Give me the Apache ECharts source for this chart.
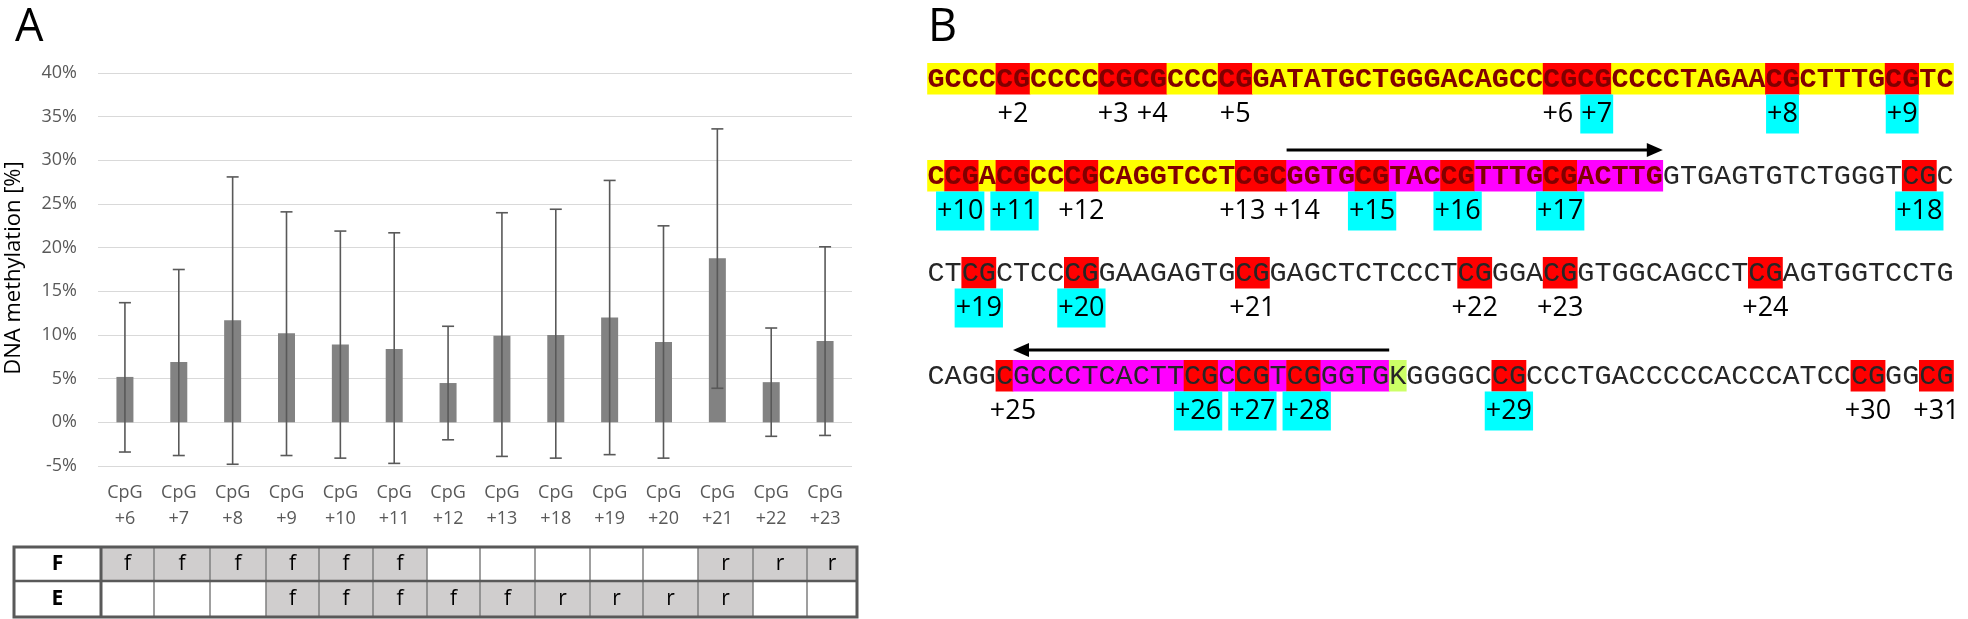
<!DOCTYPE html>
<html><head><meta charset="utf-8">
<script src="https://cdn.jsdelivr.net/npm/echarts@6/dist/echarts.min.js"></script>
<style>html,body{margin:0;padding:0;background:#fff}#c{width:1968px;height:619px}</style>
</head><body><div id="c"></div>
<script>
// ---------------- DATA ----------------
const categories = ['+6','+7','+8','+9','+10','+11','+12','+13','+18','+19','+20','+21','+22','+23'];
const meanMeth = [5.2, 6.9, 11.7, 10.2, 8.9, 8.4, 4.5, 9.9, 10.0, 12.0, 9.2, 18.8, 4.6, 9.3];
const errHigh  = [13.7, 17.5, 28.1, 24.1, 21.9, 21.7, 11.0, 24.0, 24.4, 27.7, 22.5, 33.6, 10.8, 20.1];
const errLow   = [-3.4, -3.8, -4.8, -3.8, -4.1, -4.7, -2.0, -3.9, -4.1, -3.7, -4.1, 3.9, -1.6, -1.5];
const yMin = -5, yMax = 40, yStep = 5;

const tableRowNames = ['F', 'E'];
const tableF = ['f','f','f','f','f','f','','','','','','r','r','r'];
const tableE = ['','','','f','f','f','f','f','r','r','r','r','',''];

// sequence segments: [bases, code]  A=amplicon(yellow) C=CpG(red) P=primer(magenta) K=degenerate ''=none
const seqRow1 = [['GCCC','A'],['CG','C'],['CCCC','A'],['CGCG','C'],['CCC','A'],['CG','C'],['GATATGCTGGGACAGCC','A'],['CGCG','C'],['CCCCTAGAA','A'],['CG','C'],['CTTTG','A'],['CG','C'],['TC','A']];
const seqRow2 = [['C','A'],['CG','C'],['A','A'],['CG','C'],['CC','A'],['CG','C'],['CAGGTCCT','A'],['CGC','C'],['GGTG','P'],['CG','C'],['TAC','P'],['CG','C'],['TTTG','P'],['CG','C'],['ACTTG','P'],['GTGAGTGTCTGGGT',''],['CG','C'],['C','']];
const seqRow3 = [['CT',''],['CG','C'],['CTCC',''],['CG','C'],['GAAGAGTG',''],['CG','C'],['GAGCTCTCCCT',''],['CG','C'],['GGA',''],['CG','C'],['GTGGCAGCCT',''],['CG','C'],['AGTGGTCCTG','']];
const seqRow4 = [['CAGG',''],['C','C'],['GCCCTCACTT','P'],['CG','C'],['C','P'],['CG','C'],['T','P'],['CG','C'],['GGTG','P'],['K','K'],['GGGGC',''],['CG','C'],['CCCTGACCCCCACCCATCC',''],['CG','C'],['GG',''],['CG','C']];
const exonLength = 103;          // leading bases of exon 1 (bold)
const firstCpG = 2;              // number of the first CpG shown
const cyanSites = [7,8,9,10,11,15,16,17,18,19,20,26,27,28,29];
const primerDirection = [null, 'forward', null, 'reverse'];

// ---------------- LAYOUT / STYLE ----------------
const FONT = 'Open Sans';
const MONO = 'Liberation Mono';
const seqRows = [seqRow1, seqRow2, seqRow3, seqRow4];
const SEQ_X0 = 927.5, CHAR_W = 17.1, BAND_H = 31.5;
const BAND_TOP = [63, 160, 257, 360];
const BG = {A:'#ffff00', C:'#ff0000', P:'#ff00ff', K:'#ccff66'};
const LABEL_FS = 27, LABEL_H = 39, LABEL_GAP = 8;

const G = [];
G.push({type:'text', x:15, y:28, z:5, style:{text:'A', fontSize:45, fontFamily:FONT, fill:'#000', align:'left', verticalAlign:'middle'}});
G.push({type:'text', x:928, y:28, z:5, style:{text:'B', fontSize:45, fontFamily:FONT, fill:'#000', align:'left', verticalAlign:'middle'}});
G.push({type:'text', x:14, y:268, rotation:Math.PI/2, z:5, style:{text:'DNA methylation [%]', fontSize:22, fontFamily:FONT, fill:'#000', align:'center', verticalAlign:'middle'}});

// ---- table ----
const TX = [14,101,154,210,266,319,373,427,480,535,590,643,698,753,807,857];
const TY = [547,581,617];
[tableF, tableE].forEach((row, r) => {
  row.forEach((v, c) => {
    G.push({type:'rect', z:1, shape:{x:TX[c+1], y:TY[r], width:TX[c+2]-TX[c+1], height:TY[r+1]-TY[r]}, style:{fill: v ? '#d0cece' : '#ffffff'}});
    if (v) G.push({type:'text', z:3, x:(TX[c+1]+TX[c+2])/2, y:(TY[r]+TY[r+1])/2, style:{text:v, fontSize:21, fontFamily:FONT, fill:'#000', align:'center', verticalAlign:'middle'}});
  });
  G.push({type:'text', z:3, x:(TX[0]+TX[1])/2, y:(TY[r]+TY[r+1])/2, style:{text:tableRowNames[r], fontSize:21, fontWeight:'bold', fontFamily:FONT, fill:'#000', align:'center', verticalAlign:'middle'}});
});
for (let k = 2; k < TX.length-1; k++) {
  G.push({type:'line', z:2, shape:{x1:TX[k], y1:TY[0], x2:TX[k], y2:TY[2]}, style:{stroke:'#7f7f7f', lineWidth:1.5}});
}
G.push({type:'line', z:2, shape:{x1:TX[0], y1:TY[1], x2:TX[TX.length-1], y2:TY[1]}, style:{stroke:'#595959', lineWidth:2.5}});
G.push({type:'line', z:2, shape:{x1:TX[1], y1:TY[0], x2:TX[1], y2:TY[2]}, style:{stroke:'#595959', lineWidth:3}});
G.push({type:'rect', z:2, shape:{x:TX[0], y:TY[0], width:TX[TX.length-1]-TX[0], height:TY[2]-TY[0]}, style:{fill:null, stroke:'#595959', lineWidth:3}});

// ---- sequence ----
const mctx = document.createElement('canvas').getContext('2d');
mctx.font = LABEL_FS + 'px "' + FONT + '"';
function tw(t){ return mctx.measureText(t).width; }

function placeLabels(items) {
  let cl = items.map(it => ({items:[it]}));
  const width = c => c.items.reduce((s,it)=>s+it.w,0) + LABEL_GAP*(c.items.length-1);
  const center = c => c.items.reduce((s,it)=>s+it.c,0)/c.items.length;
  let changed = true;
  while (changed) {
    changed = false;
    for (let k = 0; k < cl.length-1; k++) {
      const a = cl[k], b = cl[k+1];
      if ((center(b)-width(b)/2) - (center(a)+width(a)/2) < LABEL_GAP) {
        cl.splice(k, 2, {items: a.items.concat(b.items)}); changed = true; break;
      }
    }
  }
  cl.forEach(c => {
    let x = center(c) - width(c)/2;
    c.items.forEach(it => { it.x = x + it.w/2; x += it.w + LABEL_GAP; });
  });
}

let gIdx = 0, cpg = firstCpG;
seqRows.forEach((row, r) => {
  const top = BAND_TOP[r], mid = top + BAND_H/2;
  let s = '', codes = [];
  row.forEach(([b, code]) => { s += b; for (const ch of b) codes.push(code); });
  let i0 = 0;
  row.forEach(([b, code]) => {
    if (BG[code]) G.push({type:'rect', z:1, shape:{x:SEQ_X0+i0*CHAR_W-0.3, y:top, width:b.length*CHAR_W+0.6, height:BAND_H}, style:{fill:BG[code]}});
    i0 += b.length;
  });
  for (let i = 0; i < s.length; i++) {
    const exon = (gIdx + i) < exonLength;
    G.push({type:'text', z:3, x:SEQ_X0+(i+0.5)*CHAR_W, y:mid+1, style:{text:s[i], fontSize:28.5, fontFamily:MONO, fontWeight: exon?'bold':'normal', fill: exon?'#800000':'#262626', align:'center', verticalAlign:'middle'}});
  }
  // CpG labels
  const labs = [];
  for (let i = 0; i < s.length-1; i++) {
    if (s[i]==='C' && s[i+1]==='G') {
      const t = '+' + cpg;
      labs.push({t, n:cpg, c:SEQ_X0+(i+1)*CHAR_W, w:tw(t)});
      cpg++;
    }
  }
  placeLabels(labs);
  const ly = top + BAND_H;
  labs.forEach(l => {
    if (cyanSites.includes(l.n)) G.push({type:'rect', z:1, shape:{x:l.x-l.w/2-1, y:ly, width:l.w+2, height:LABEL_H}, style:{fill:'#00ffff'}});
    G.push({type:'text', z:3, x:l.x, y:ly+LABEL_H/2, style:{text:l.t, fontSize:LABEL_FS, fontFamily:FONT, fill:'#000', align:'center', verticalAlign:'middle'}});
  });
  // primer arrow
  if (primerDirection[r]) {
    const pi = codes.map((c,i)=>c==='P'?i:-1).filter(i=>i>=0);
    const xa = SEQ_X0 + pi[0]*CHAR_W, xb = SEQ_X0 + (pi[pi.length-1]+1)*CHAR_W;
    const ay = top - 10, hl = 16, hw = 7;
    if (primerDirection[r] === 'forward') {
      G.push({type:'line', z:3, shape:{x1:xa, y1:ay, x2:xb-hl+2, y2:ay}, style:{stroke:'#000', lineWidth:3}});
      G.push({type:'polygon', z:3, shape:{points:[[xb,ay],[xb-hl,ay-hw],[xb-hl,ay+hw]]}, style:{fill:'#000'}});
    } else {
      G.push({type:'line', z:3, shape:{x1:xa+hl-2, y1:ay, x2:xb, y2:ay}, style:{stroke:'#000', lineWidth:3}});
      G.push({type:'polygon', z:3, shape:{points:[[xa,ay],[xa+hl,ay-hw],[xa+hl,ay+hw]]}, style:{fill:'#000'}});
    }
  }
  gIdx += s.length;
});

// ---------------- CHART ----------------
const errData = categories.map((c, i) => [i, errLow[i], errHigh[i]]);
const chart = echarts.init(document.getElementById('c'), null, {renderer:'canvas'});
chart.setOption({
  animation: false,
  backgroundColor: '#ffffff',
  grid: {left: 98, right: 1116, top: 73, bottom: 153},
  xAxis: {
    type: 'category', data: categories.map(c => 'CpG\n' + c),
    axisLine: {show: false, onZero: false}, axisTick: {show: false},
    axisLabel: {interval: 0, color: '#595959', fontSize: 18, fontFamily: FONT, lineHeight: 26, margin: 14}
  },
  yAxis: {
    type: 'value', min: yMin, max: yMax, interval: yStep,
    axisLine: {show: false}, axisTick: {show: false},
    axisLabel: {formatter: '{value}%', color: '#595959', fontSize: 18, fontFamily: FONT, margin: 21},
    splitLine: {lineStyle: {color: '#d9d9d9', width: 1.2}}
  },
  series: [
    {type: 'bar', data: meanMeth, barWidth: 17, itemStyle: {color: '#828282'}, z: 2},
    {type: 'custom', data: errData, z: 5, encode: {x: 0, y: [1, 2]},
     renderItem: (params, api) => {
       const i = api.value(0);
       const lo = api.coord([i, api.value(1)]), hi = api.coord([i, api.value(2)]);
       const cw = 6, st = {stroke: '#595959', lineWidth: 1.6};
       return {type: 'group', children: [
         {type: 'line', shape: {x1: lo[0], y1: lo[1], x2: hi[0], y2: hi[1]}, style: st},
         {type: 'line', shape: {x1: lo[0]-cw, y1: lo[1], x2: lo[0]+cw, y2: lo[1]}, style: st},
         {type: 'line', shape: {x1: hi[0]-cw, y1: hi[1], x2: hi[0]+cw, y2: hi[1]}, style: st}
       ]};
     }}
  ],
  graphic: {elements: G}
});
</script></body></html>
